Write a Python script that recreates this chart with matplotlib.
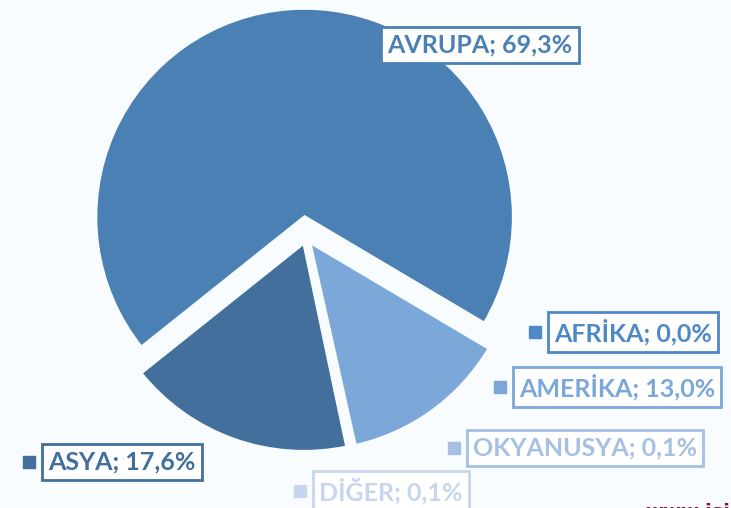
import matplotlib.pyplot as plt

regions = ['ASYA', 'DİĞER', 'OKYANUSYA', 'AMERİKA', 'AFRİKA', 'AVRUPA']
shares = [17.6, 0.1, 0.1, 13.0, 0.0, 69.3]
colors = ['#426F9B', '#C5D6EE', '#A6C0E4', '#7BA7D9', '#4F88C6', '#4A80B3']
# explode distance in pixels (axes use pixel units)
explode = [6, 6, 6, 6, 0, 20]

# label box centres in pixels (x, y from top)
label_pos = [(122, 462), (391, 491), (585, 448), (617, 387), (633, 332), (480, 45)]

W, H = 731, 508
bg = '#F8FCFE'

fig = plt.figure(figsize=(W / 100, H / 100), dpi=100, facecolor=bg)
ax = fig.add_axes([0, 0, 1, 1])
ax.set_facecolor(bg)

cx, cy, R = 306, H - 237, 209
wedges, _ = ax.pie([s if s > 0 else 0.0001 for s in shares], colors=colors,
                   explode=explode, startangle=218.6, counterclock=True,
                   center=(cx, cy), radius=R, frame=True,
                   wedgeprops=dict(edgecolor=bg, linewidth=2.5))
ax.set_xlim(0, W)
ax.set_ylim(0, H)
ax.set_aspect('equal')
ax.axis('off')

for name, val, col, (px, py) in zip(regions, shares, colors, label_pos):
    txt = f'{name}; {val:.1f}%'.replace('.', ',')
    t = ax.text(px, H - py, txt, ha='center', va='center', fontsize=18,
                fontweight='bold', family='Lato', color=col,
                bbox=dict(boxstyle='square,pad=0.25', fc='white', ec=col, lw=2))
    if name != 'AVRUPA':
        fig.canvas.draw()
        bb = t.get_bbox_patch().get_window_extent()
        ax.plot(bb.x0 - 13, H - py, marker='s', ms=9, color=col, ls='none')

# watermark, mostly below the bottom edge as in the source image
ax.text(645, -10, 'www.isig', ha='left', va='baseline', fontsize=14,
        fontweight='bold', color='#8B1040')

fig.savefig('out.png', dpi=100, facecolor=bg)
